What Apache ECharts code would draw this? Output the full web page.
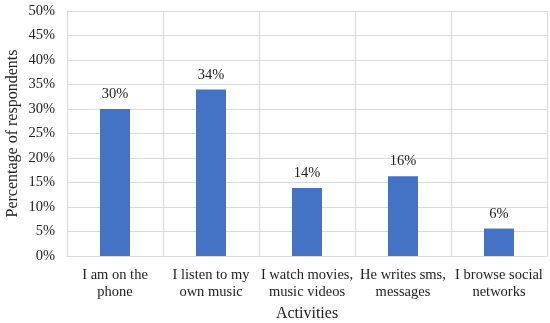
<!DOCTYPE html>
<html>
<head>
<meta charset="utf-8">
<script src="https://cdn.jsdelivr.net/npm/echarts@6/dist/echarts.min.js"></script>
<style>
  html, body { margin: 0; padding: 0; background: #fff; }
  #chart { width: 550px; height: 323px; }
</style>
</head>
<body>
<div id="chart"></div>
<script>
var categories = [
  'I am on the\nphone',
  'I listen to my\nown music',
  'I watch movies,\nmusic videos',
  'He writes sms,\nmessages',
  'I browse social\nnetworks'
]
var values = [30, 34, 13.9, 16.3, 5.6]
var valueLabels = ['30%', '34%', '14%', '16%', '6%']

var font = '"Liberation Serif", "Times New Roman", serif'
var chart = echarts.init(document.getElementById('chart'))
chart.setOption({
  animation: false,
  grid: {
    left: 67,
    right: 3,
    top: 11,
    bottom: 67,
    outerBoundsMode: 'none'
  },
  xAxis: {
    type: 'category',
    data: categories,
    name: 'Activities',
    nameLocation: 'middle',
    nameGap: 50,
    nameMoveOverlap: false,
    nameTextStyle: { fontFamily: font, fontSize: 16, color: '#222' },
    axisLine: { lineStyle: { color: '#d9d9d9' } },
    axisTick: { show: false },
    axisLabel: {
      fontFamily: font,
      fontSize: 14.5,
      color: '#222',
      lineHeight: 17,
      margin: 11,
      interval: 0
    },
    splitLine: { show: true, lineStyle: { color: '#d9d9d9' } }
  },
  yAxis: {
    type: 'value',
    min: 0,
    max: 50,
    interval: 5,
    name: 'Percentage of respondents',
    nameLocation: 'middle',
    nameGap: 46,
    nameMoveOverlap: false,
    nameTextStyle: { fontFamily: font, fontSize: 16, color: '#222' },
    axisLine: { show: true, lineStyle: { color: '#d9d9d9' } },
    axisTick: { show: false },
    axisLabel: {
      fontFamily: font,
      fontSize: 14.5,
      color: '#222',
      margin: 12,
      formatter: '{value}%'
    },
    splitLine: { lineStyle: { color: '#d9d9d9' } }
  },
  series: [
    {
      type: 'bar',
      data: values,
      barWidth: 30,
      itemStyle: { color: '#4472c4' },
      label: {
        show: true,
        position: 'top',
        distance: 7,
        fontFamily: font,
        fontSize: 14.5,
        color: '#222',
        formatter: function (p) { return valueLabels[p.dataIndex] }
      }
    }
  ]
})
</script>
</body>
</html>
